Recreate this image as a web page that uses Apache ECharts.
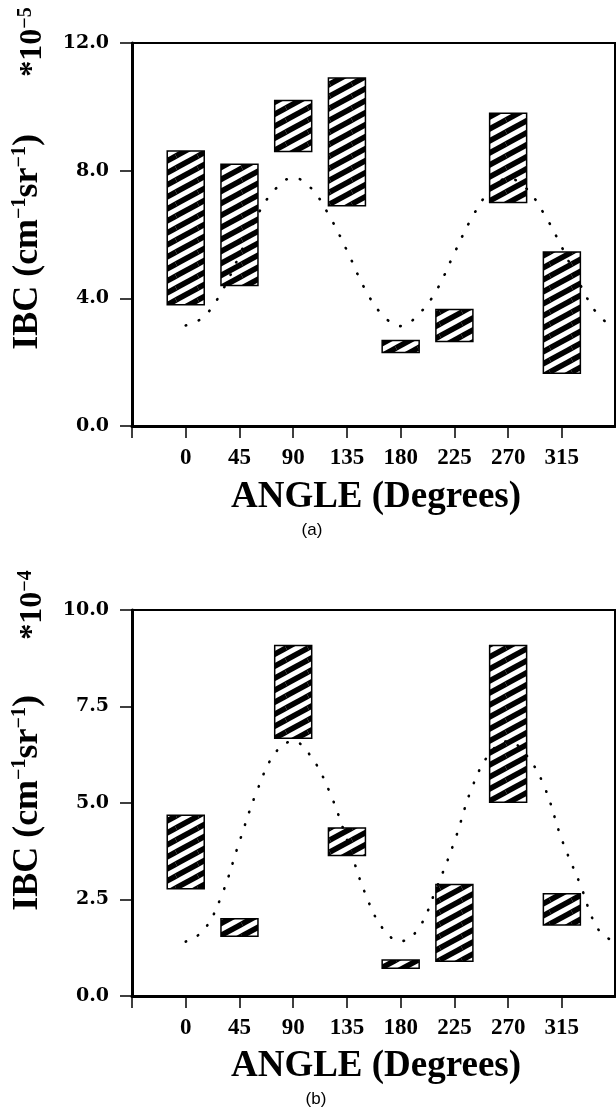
<!DOCTYPE html>
<html>
<head>
<meta charset="utf-8">
<script src="https://cdn.jsdelivr.net/npm/echarts@6/dist/echarts.min.js"></script>
<style>
html,body{margin:0;padding:0;background:#fff;}
#chart{width:616px;height:1113px;}
</style>
</head>
<body>
<div id="chart"></div>
<script>
// ---- data ----
const barAngles = [0, 45, 90, 135, 180, 225, 270, 315];
const lowA  = [3.80, 4.40, 8.60, 6.90, 2.30, 2.65, 7.00, 1.65];
const highA = [8.62, 8.20, 10.20, 10.90, 2.68, 3.65, 9.80, 5.45];
const lowB  = [2.78, 1.55, 6.68, 3.64, 0.72, 0.90, 5.02, 1.84];
const highB = [4.68, 2.00, 9.08, 4.35, 0.93, 2.89, 9.08, 2.65];
const curveAngles = [0,15,30,45,60,75,90,105,120,135,150,165,180,195,210,225,240,255,270,285,300,315,330,345,360];
const curveA = [3.15,3.42,4.20,5.35,6.60,7.42,7.78,7.45,6.60,5.50,4.30,3.47,3.13,3.50,4.25,5.42,6.55,7.38,7.76,7.45,6.65,5.60,4.45,3.50,3.05];
const curveB = [1.41,1.70,2.60,4.00,5.34,6.30,6.60,6.20,5.32,4.05,2.68,1.75,1.42,1.75,2.80,4.00,5.42,6.30,6.60,6.25,5.45,4.05,2.92,1.75,1.38];
const xTicks = ['0','45','90','135','180','225','270','315'];

// ---- hatch pattern ----
function makeHatch() {
  const W = 22, H = 12;
  const c = document.createElement('canvas');
  c.width = W; c.height = H;
  const g = c.getContext('2d');
  g.fillStyle = '#fff'; g.fillRect(0, 0, W, H);
  g.strokeStyle = '#000'; g.lineWidth = 5.5; g.lineCap = 'butt';
  for (let k = -1; k <= 1; k++) {
    for (let j = -1; j <= 1; j++) {
      g.beginPath();
      g.moveTo(j * W, H + k * H - j * H);
      g.lineTo((j + 1) * W, k * H - j * H);
      g.stroke();
    }
  }
  return c;
}
const hatch = { image: makeHatch(), repeat: 'repeat' };

const BAR_PX = 37;
function barItem(params, api) {
  const x = api.value(0), lo = api.value(1), hi = api.value(2);
  const pTop = api.coord([x, hi]);
  const pBot = api.coord([x, lo]);
  return {
    type: 'rect',
    shape: { x: pTop[0] - BAR_PX / 2, y: pTop[1], width: BAR_PX, height: pBot[1] - pTop[1] },
    style: { fill: hatch, stroke: '#000', lineWidth: 1.5 }
  };
}

const serifB = '"Liberation Serif", "Times New Roman", serif';
const labelFont = '"DejaVu Serif", serif';

function xAxisCfg(gi) {
  return {
    type: 'value', gridIndex: gi, min: -45, max: 359.5, interval: 45,
    axisLine: { show: true, onZero: false, lineStyle: { color: '#000', width: 3 } },
    axisTick: { show: true, length: 12, lineStyle: { color: '#000', width: 1.5 } },
    splitLine: { show: false },
    axisLabel: {
      margin: 21, color: '#000', fontFamily: serifB, fontWeight: 'bold', fontSize: 23,
      showMaxLabel: false,
      formatter: v => { const i = barAngles.indexOf(v); return i >= 0 ? xTicks[i] : ''; }
    }
  };
}
function yAxisCfg(gi, max, interval) {
  return {
    type: 'value', gridIndex: gi, min: 0, max: max, interval: interval,
    axisLine: { show: true, onZero: false, lineStyle: { color: '#000', width: 3 } },
    axisTick: { show: true, length: 12, lineStyle: { color: '#000', width: 1.5 } },
    splitLine: { show: false },
    axisLabel: {
      margin: 23, color: '#000', fontFamily: labelFont, fontWeight: 'bold', fontSize: 19,
      formatter: v => v.toFixed(1)
    }
  };
}

const richT = {
  b: { fontFamily: serifB, fontWeight: 'bold', fontSize: 36, color: '#000' },
  s: { fontFamily: serifB, fontWeight: 'bold', fontSize: 20, color: '#000', verticalAlign: 'top', padding: [0, 0, 14, 0] }
};
const richE = {
  b: { fontFamily: serifB, fontWeight: 'bold', fontSize: 32, color: '#000' },
  s: { fontFamily: serifB, fontWeight: 'bold', fontSize: 20, color: '#000', verticalAlign: 'top', padding: [0, 0, 14, 0] }
};

function rotText(x, y, text, rich) {
  return { type: 'text', x: x, y: y, rotation: Math.PI / 2,
    style: { text: text, rich: rich, align: 'center', verticalAlign: 'middle', fill: '#000' } };
}
function plainText(x, y, text, font) {
  return { type: 'text', x: x, y: y,
    style: { text: text, font: font, align: 'center', verticalAlign: 'middle', fill: '#000' } };
}

const chart = echarts.init(document.getElementById('chart'), null, { renderer: 'canvas' });
chart.setOption({
  animation: false,
  backgroundColor: '#fff',
  grid: [
    { left: 132, top: 43, width: 483, height: 383, show: true, borderColor: '#000', borderWidth: 2, containLabel: false },
    { left: 132, top: 610, width: 483, height: 386, show: true, borderColor: '#000', borderWidth: 2, containLabel: false }
  ],
  xAxis: [xAxisCfg(0), xAxisCfg(1)],
  yAxis: [yAxisCfg(0, 12, 4), yAxisCfg(1, 10, 2.5)],
  series: [
    { type: 'line', xAxisIndex: 0, yAxisIndex: 0, data: curveAngles.map((a, i) => [a, curveA[i]]),
      smooth: 0.4, symbol: 'none', clip: true,
      lineStyle: { color: '#000', width: 2.6, type: [0.5, 13.5], cap: 'round' } },
    { type: 'line', xAxisIndex: 1, yAxisIndex: 1, data: curveAngles.map((a, i) => [a, curveB[i]]),
      smooth: 0.4, symbol: 'none', clip: true,
      lineStyle: { color: '#000', width: 2.6, type: [0.5, 13], cap: 'round' } },
    { type: 'custom', xAxisIndex: 0, yAxisIndex: 0, renderItem: barItem,
      encode: { x: 0, y: [1, 2] },
      data: barAngles.map((a, i) => [a, lowA[i], highA[i]]) },
    { type: 'custom', xAxisIndex: 1, yAxisIndex: 1, renderItem: barItem,
      encode: { x: 0, y: [1, 2] },
      data: barAngles.map((a, i) => [a, lowB[i], highB[i]]) }
  ],
  graphic: [
    rotText(28, 242, '{b|IBC (cm}{s|−1}{b|sr}{s|−1}{b|)}', richT),
    rotText(33, 42, '{b|*10}{s|−5}', richE),
    rotText(28, 803, '{b|IBC (cm}{s|−1}{b|sr}{s|−1}{b|)}', richT),
    rotText(33, 605, '{b|*10}{s|−4}', richE),
    plainText(376, 497, 'ANGLE (Degrees)', 'bold 37px ' + serifB),
    plainText(376, 1066, 'ANGLE (Degrees)', 'bold 37px ' + serifB),
    plainText(312, 530, '(a)', '17px "Liberation Sans", Arial, sans-serif'),
    plainText(316, 1099, '(b)', '17px "Liberation Sans", Arial, sans-serif')
  ]
});
</script>
</body>
</html>
